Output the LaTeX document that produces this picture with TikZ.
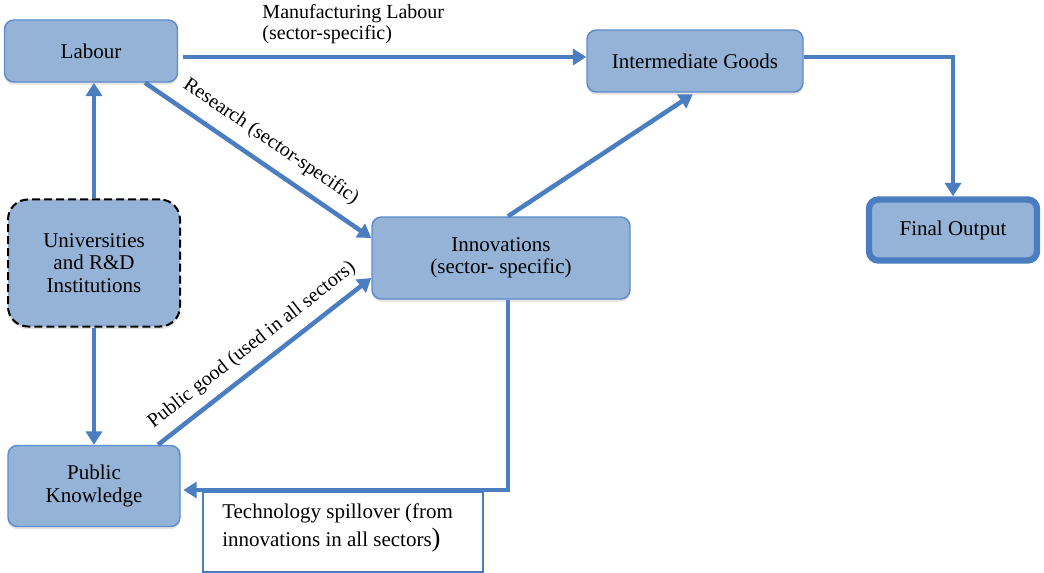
\documentclass[tikz,border=0pt]{standalone}
\usepackage{fontspec}
\setmainfont{Liberation Serif}
\usetikzlibrary{arrows.meta,shadows}
\definecolor{boxfill}{RGB}{149,179,215}
\definecolor{flowblue}{RGB}{74,126,193}
\definecolor{edgeblue}{RGB}{92,140,204}

\begin{document}
\begin{tikzpicture}[x=0.75pt,y=-0.75pt,
  box/.style={draw=edgeblue, line width=1.1pt, fill=boxfill, rounded corners=7pt,
    align=center, font=\fontsize{15.75}{16.9}\selectfont,
    drop shadow={shadow xshift=0pt, shadow yshift=-2pt, opacity=0.22}},
  dashbox/.style={box, draw=black, line width=1.5pt, dash pattern=on 6pt off 3pt,
    rounded corners=15pt},
  flow/.style={draw=flowblue, line width=3.4pt, -{Triangle[length=10pt,width=12pt]}},
  lbl/.style={font=\fontsize{15}{15.75}\selectfont, text=black},
]
\useasboundingbox (0,0) rectangle (1044,573);

% boxes
\node[box, minimum width=129.75pt, minimum height=46.5pt] (labour) at (91,51) {Labour};
\node[dashbox, minimum width=129pt, minimum height=95.25pt] (univ) at (94,263)
  {Universities\\and R\&D\\Institutions};
\node[box, minimum width=129pt, minimum height=60.75pt] (pk) at (94,486) {Public\\Knowledge};
\node[box, minimum width=193.5pt, minimum height=61.5pt] (innov) at (501,258)
  {Innovations\\(sector- specific)};
\node[box, minimum width=162pt, minimum height=46.5pt] (ig) at (695,61) {Intermediate Goods};
\node[box, draw=flowblue, line width=4.8pt, minimum width=126pt, minimum height=45.75pt]
  (final) at (953,230) {Final Output};

% note box under the spillover connector
\node[draw=flowblue, line width=1pt, fill=white, minimum width=210pt, minimum height=60pt,
  inner sep=0pt] (spill) at (343,532) {};
\node[anchor=north west, align=left, inner sep=0pt,
  font=\fontsize{15.75}{21.5}\selectfont] (spilltext) at (222,503)
  {Technology spillover (from\\innovations in all sectors{\fontsize{20}{20}\selectfont)}};

% connectors
\draw[flow, shorten <=3.75pt] ([yshift=-4.5pt]labour.east) -- ([yshift=-4.5pt]labour.east -| ig.west)
  node[lbl, pos=0.19, anchor=south west, align=left, yshift=5pt]
  {Manufacturing Labour\\(sector-specific)};
\draw[flow] ([xshift=40.5pt]labour.south) -- ([yshift=15pt]innov.west)
  node[lbl, sloped, pos=0.5, above=5pt] {Research (sector-specific)};
\draw[flow] (univ.north) -- (univ.north |- labour.south);
\draw[flow] (univ.south) -- (univ.south |- pk.north);
\draw[flow] ([xshift=48pt]pk.north) -- ([yshift=-15pt]innov.west)
  node[lbl, sloped, pos=0.5, above=3.5pt] {Public good (used in all sectors)};
\draw[flow, shorten >=2pt] ([xshift=5.25pt]innov.north) -- (ig.south);
\draw[flow] ([yshift=3pt]ig.east) -| (final.north);
\draw[flow, shorten >=2pt] ([xshift=5.25pt]innov.south) |- ([yshift=-3pt]pk.east);
\end{tikzpicture}
\end{document}
